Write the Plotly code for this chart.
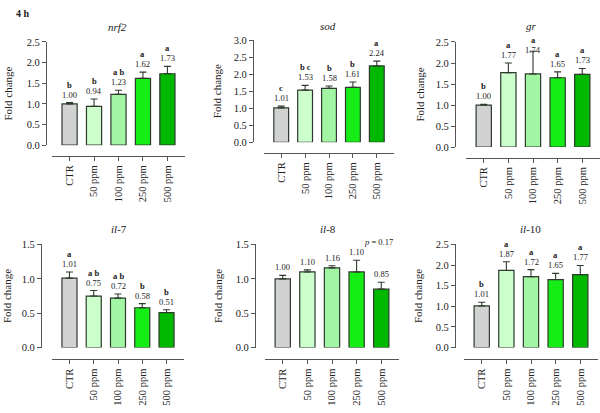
import plotly.graph_objects as go

categories = ["CTR", "50 ppm", "100 ppm", "250 ppm", "500 ppm"]
bar_colors = ["#d2d2d2", "#ccffcc", "#a2f5a2", "#16ec16", "#00b800"]

nrf2_vals = [1.00, 0.94, 1.23, 1.62, 1.73]
nrf2_err = [0.03, 0.18, 0.10, 0.15, 0.18]
nrf2_let = ["b", "b", "a b", "a", "a"]

sod_vals = [1.01, 1.53, 1.58, 1.61, 2.24]
sod_err = [0.05, 0.14, 0.07, 0.16, 0.14]
sod_let = ["c", "b c", "b", "b", "a"]

gr_vals = [1.00, 1.77, 1.74, 1.65, 1.73]
gr_err = [0.02, 0.23, 0.54, 0.14, 0.14]
gr_let = ["b", "a", "a", "a", "a"]

il7_vals = [1.01, 0.75, 0.72, 0.58, 0.51]
il7_err = [0.09, 0.08, 0.06, 0.06, 0.04]
il7_let = ["a", "a b", "a b", "b", "b"]

il8_vals = [1.00, 1.10, 1.16, 1.10, 0.85]
il8_err = [0.05, 0.03, 0.03, 0.17, 0.10]
il8_let = ["", "", "", "", ""]

il10_vals = [1.01, 1.87, 1.72, 1.65, 1.77]
il10_err = [0.09, 0.21, 0.17, 0.15, 0.22]
il10_let = ["b", "a", "a", "a", "a"]

W, H = 600, 413
FONT = "Liberation Serif"

# panel geometry in pixels
panels = [
    dict(title="<i>nrf2</i>", vals=nrf2_vals, err=nrf2_err, let=nrf2_let, ymax=2.5, dtick=0.5,
         ytop=38, ybot=144, yaxis_x=46, xl=52, xr=185, xaxis_y=155, title_xy=(117, 23), ylab_x=8),
    dict(title="<i>sod</i>", vals=sod_vals, err=sod_err, let=sod_let, ymax=3.0, dtick=0.5,
         ytop=36, ybot=141, yaxis_x=253, xl=264, xr=394, xaxis_y=152, title_xy=(328, 22), ylab_x=217),
    dict(title="<i>gr</i>", vals=gr_vals, err=gr_err, let=gr_let, ymax=2.5, dtick=0.5,
         ytop=38, ybot=146, yaxis_x=455, xl=466, xr=600, xaxis_y=157, title_xy=(531, 22), ylab_x=420),
    dict(title="<i>il</i>-7", vals=il7_vals, err=il7_err, let=il7_let, ymax=1.5, dtick=0.5,
         ytop=246, ybot=352, yaxis_x=41, xl=52, xr=184, xaxis_y=364, title_xy=(119, 230), ylab_x=7),
    dict(title="<i>il</i>-8", vals=il8_vals, err=il8_err, let=il8_let, ymax=1.5, dtick=0.5,
         ytop=246, ybot=352, yaxis_x=255, xl=265, xr=399, xaxis_y=364, title_xy=(328, 230), ylab_x=218),
    dict(title="<i>il</i>-10", vals=il10_vals, err=il10_err, let=il10_let, ymax=2.5, dtick=0.5,
         ytop=246, ybot=352, yaxis_x=455, xl=464, xr=598, xaxis_y=364, title_xy=(530, 230), ylab_x=418),
]

fig = go.Figure()
annotations = []
layout = {}

def px_x(x):
    return x / W

def px_y(y):
    return 1 - y / H

for i, p in enumerate(panels, start=1):
    xa = "x" if i == 1 else f"x{i}"
    ya = "y" if i == 1 else f"y{i}"
    xkey = "xaxis" if i == 1 else f"xaxis{i}"
    ykey = "yaxis" if i == 1 else f"yaxis{i}"
    fig.add_trace(go.Bar(
        x=categories, y=p["vals"], xaxis=xa, yaxis=ya,
        marker=dict(color=bar_colors, line=dict(color="#2d3a2d", width=1.2)),
        width=0.62,
        error_y=dict(type="data", symmetric=False, array=p["err"],
                     arrayminus=[0] * 5, color="#2d3a2d", thickness=1.1, width=3.5),
        showlegend=False, cliponaxis=False,
    ))
    layout[xkey] = dict(
        domain=[px_x(p["xl"]), px_x(p["xr"])], anchor="free", position=px_y(p["xaxis_y"]),
        range=[-0.72, 4.72], type="category", showline=True, linecolor="#555", linewidth=1.3,
        ticks="outside", ticklen=4, tickcolor="#555", tickangle=-90,
        tickfont=dict(family=FONT, size=10.5, color="#222"), showgrid=False, zeroline=False,
    )
    layout[ykey] = dict(
        domain=[px_y(p["ybot"]), px_y(p["ytop"])], anchor="free", position=px_x(p["yaxis_x"]),
        range=[0, p["ymax"]], dtick=p["dtick"], tickformat=".1f", showline=True,
        linecolor="#555", linewidth=1.3, ticks="outside", ticklen=4, tickcolor="#555",
        tickfont=dict(family=FONT, size=10.5, color="#222"), showgrid=False, zeroline=False,
    )
    # titles
    annotations.append(dict(text=p["title"], x=px_x(p["title_xy"][0]), y=px_y(p["title_xy"][1]),
                            xref="paper", yref="paper", showarrow=False,
                            xanchor="center", yanchor="middle",
                            font=dict(family=FONT, size=11, color="#222")))
    annotations.append(dict(text="Fold change", x=px_x(p["ylab_x"]),
                            y=px_y((p["ytop"] + p["ybot"]) / 2), xref="paper", yref="paper",
                            showarrow=False, textangle=-90, xanchor="center", yanchor="middle",
                            font=dict(family=FONT, size=11, color="#222")))
    for c, v, e, l in zip(categories, p["vals"], p["err"], p["let"]):
        base = v + min(e, 0.38)
        annotations.append(dict(text=f"{v:.2f}", x=c, y=base, xref=xa, yref=ya,
                                xanchor="center", yanchor="bottom", showarrow=False, yshift=1,
                                font=dict(family=FONT, size=8.5, color="#222")))
        if l:
            annotations.append(dict(text=f"<b>{l}</b>", x=c, y=base, xref=xa, yref=ya,
                                    xanchor="center", yanchor="bottom", showarrow=False, yshift=11,
                                    font=dict(family=FONT, size=8.5, color="#222")))

annotations.append(dict(text="<b>4 h</b>", x=px_x(14), y=px_y(9), xref="paper", yref="paper",
                        xanchor="left", yanchor="middle", showarrow=False,
                        font=dict(family=FONT, size=10, color="#222")))
annotations.append(dict(text="<i>p</i> = 0.17", x=px_x(378), y=px_y(243), xref="paper", yref="paper",
                        xanchor="center", yanchor="middle", showarrow=False,
                        font=dict(family=FONT, size=8.5, color="#222")))

fig.update_layout(
    width=W, height=H, margin=dict(l=0, r=0, t=0, b=0),
    paper_bgcolor="white", plot_bgcolor="white",
    annotations=annotations, bargap=0.38, **layout,
)

fig.write_html("out.html")
